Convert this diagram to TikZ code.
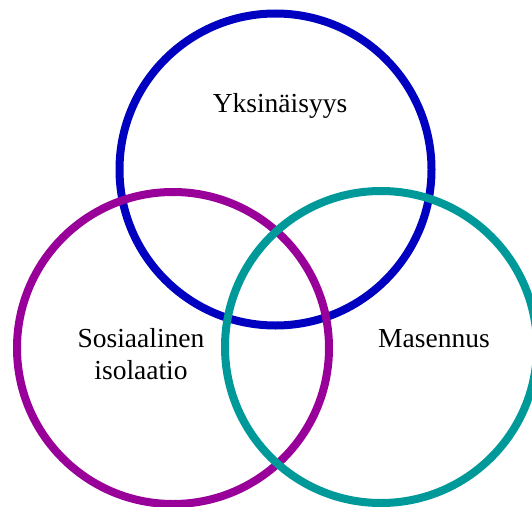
\documentclass[tikz,border=0pt]{standalone}
\usepackage{fontspec}
\setmainfont{Liberation Serif}
\definecolor{cblue}{RGB}{0,0,192}
\definecolor{cpurple}{RGB}{153,0,153}
\definecolor{cteal}{RGB}{0,153,153}
\begin{document}
\begin{tikzpicture}[x=1pt,y=-1pt,
  ring/.style={line width=8pt},
  lbl/.style={font=\fontsize{27.5}{33}\selectfont, anchor=base, inner sep=0pt}]
\useasboundingbox (0,0) rectangle (532,506);
\draw[ring, cblue] (275.5,169.5) circle[radius=156];
\draw[ring, cpurple] (173,348) circle[radius=156];
\draw[ring, cteal] (381,347) circle[radius=156];
\node[lbl] (y) at (280,112) {Yksinäisyys};
\node[lbl] (s1) at (141,347) {Sosiaalinen};
\node[lbl] (s2) at (141,379) {isolaatio};
\node[lbl] (m) at (434,347) {Masennus};
\end{tikzpicture}
\end{document}
